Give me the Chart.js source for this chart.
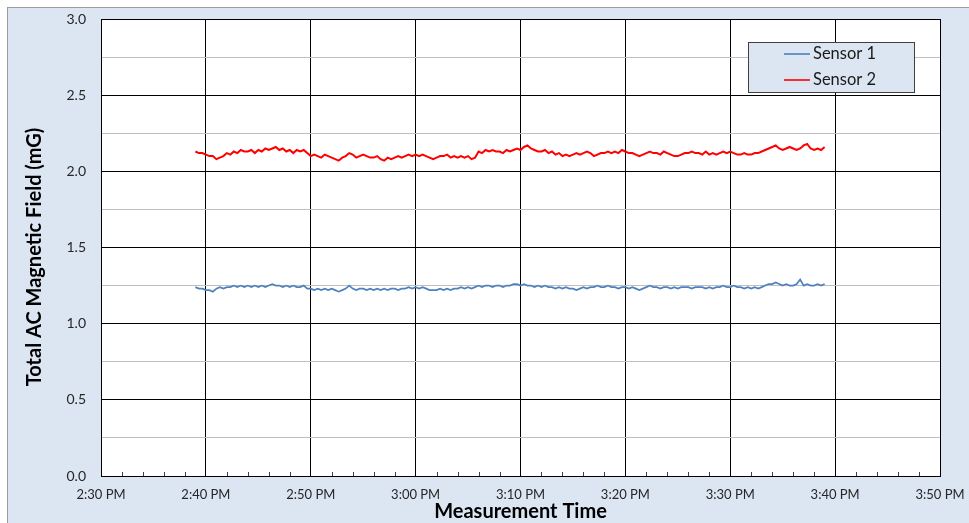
<!DOCTYPE html>
<html>
<head>
<meta charset="utf-8">
<script src="https://cdn.jsdelivr.net/npm/chart.js@4.4.1/dist/chart.umd.min.js"></script>
<style>
  html, body { margin: 0; padding: 0; background: #fff; }
  #wrap { position: relative; width: 969px; height: 523px; }
</style>
</head>
<body>
<div id="wrap"><canvas id="chart" width="969" height="523"></canvas></div>
<script>
const seriesNames = ['Sensor 1', 'Sensor 2'];
const firstSample = '2:39 PM';
const sampleSeconds = 20;
const timeTicks = ['2:30 PM', '2:40 PM', '2:50 PM', '3:00 PM', '3:10 PM', '3:20 PM', '3:30 PM', '3:40 PM', '3:50 PM'];
const xTitle = 'Measurement Time';
const yTitle = 'Total AC Magnetic Field (mG)';

// Sensor 1, every 20 s from 2:39 PM
const sensor1 = [
  1.24, 1.23, 1.23, 1.22, 1.22, 1.21, 1.23, 1.24, 1.23, 1.24, 1.24, 1.25,
  1.24, 1.25, 1.24, 1.25, 1.24, 1.25, 1.24, 1.25, 1.24, 1.25, 1.26, 1.25,
  1.25, 1.24, 1.25, 1.24, 1.25, 1.24, 1.24, 1.25, 1.23, 1.23, 1.22, 1.23,
  1.22, 1.23, 1.22, 1.23, 1.22, 1.21, 1.22, 1.23, 1.25, 1.23, 1.22, 1.23,
  1.23, 1.22, 1.23, 1.22, 1.23, 1.22, 1.23, 1.22, 1.23, 1.23, 1.22, 1.23,
  1.23, 1.24, 1.23, 1.24, 1.23, 1.24, 1.23, 1.22, 1.22, 1.22, 1.23, 1.22,
  1.23, 1.22, 1.23, 1.23, 1.24, 1.23, 1.24, 1.23, 1.24, 1.25, 1.24, 1.25,
  1.25, 1.24, 1.25, 1.25, 1.24, 1.25, 1.25, 1.26, 1.26, 1.25, 1.26, 1.25,
  1.25, 1.24, 1.25, 1.24, 1.25, 1.24, 1.24, 1.23, 1.24, 1.23, 1.24, 1.23,
  1.23, 1.22, 1.23, 1.24, 1.23, 1.24, 1.24, 1.25, 1.24, 1.24, 1.25, 1.24,
  1.24, 1.23, 1.24, 1.24, 1.23, 1.24, 1.23, 1.22, 1.23, 1.24, 1.25, 1.24,
  1.24, 1.23, 1.24, 1.24, 1.23, 1.24, 1.23, 1.24, 1.24, 1.24, 1.23, 1.24,
  1.24, 1.24, 1.23, 1.24, 1.23, 1.24, 1.24, 1.25, 1.24, 1.24, 1.25, 1.24,
  1.24, 1.23, 1.24, 1.23, 1.24, 1.23, 1.24, 1.25, 1.26, 1.26, 1.27, 1.26,
  1.25, 1.26, 1.25, 1.25, 1.26, 1.29, 1.25, 1.26, 1.25, 1.25, 1.26, 1.25,
  1.26
];

// Sensor 2, every 20 s from 2:39 PM
const sensor2 = [
  2.13, 2.12, 2.12, 2.11, 2.10, 2.10, 2.08, 2.09, 2.10, 2.12, 2.11, 2.13,
  2.12, 2.14, 2.13, 2.13, 2.14, 2.12, 2.14, 2.13, 2.15, 2.14, 2.15, 2.16,
  2.14, 2.15, 2.13, 2.14, 2.12, 2.14, 2.13, 2.14, 2.12, 2.10, 2.11, 2.10,
  2.09, 2.11, 2.10, 2.09, 2.08, 2.07, 2.09, 2.10, 2.12, 2.11, 2.09, 2.10,
  2.11, 2.10, 2.09, 2.09, 2.10, 2.08, 2.07, 2.09, 2.08, 2.09, 2.10, 2.09,
  2.10, 2.11, 2.10, 2.11, 2.10, 2.11, 2.10, 2.09, 2.08, 2.09, 2.10, 2.10,
  2.11, 2.09, 2.10, 2.09, 2.10, 2.09, 2.10, 2.08, 2.09, 2.13, 2.12, 2.14,
  2.13, 2.14, 2.13, 2.13, 2.12, 2.14, 2.13, 2.14, 2.15, 2.14, 2.16, 2.17,
  2.15, 2.14, 2.13, 2.13, 2.14, 2.12, 2.13, 2.11, 2.12, 2.10, 2.11, 2.10,
  2.11, 2.12, 2.11, 2.12, 2.13, 2.12, 2.10, 2.11, 2.12, 2.12, 2.13, 2.12,
  2.13, 2.12, 2.14, 2.13, 2.12, 2.12, 2.11, 2.10, 2.11, 2.12, 2.13, 2.12,
  2.12, 2.11, 2.13, 2.12, 2.11, 2.10, 2.10, 2.11, 2.12, 2.12, 2.13, 2.12,
  2.12, 2.11, 2.13, 2.11, 2.12, 2.11, 2.12, 2.13, 2.12, 2.13, 2.12, 2.11,
  2.11, 2.12, 2.11, 2.11, 2.12, 2.12, 2.13, 2.14, 2.15, 2.16, 2.17, 2.15,
  2.14, 2.15, 2.16, 2.15, 2.14, 2.15, 2.17, 2.18, 2.15, 2.14, 2.15, 2.14,
  2.16
];

const seriesValues = [sensor1, sensor2];
const seriesColors = ['#4f81bd', '#ff0000'];
const fontFamily = 'Lato, "Open Sans", sans-serif';

function toMinutes(label) {
  const [hm, ampm] = label.split(' ');
  let [h, m] = hm.split(':').map(Number);
  if (ampm === 'PM' && h !== 12) h += 12;
  return h * 60 + m;
}

const start = toMinutes(firstSample);
const datasets = seriesValues.map((values, s) => ({
  label: seriesNames[s],
  data: values.map((v, i) => ({ x: start + i * sampleSeconds / 60, y: v })),
  borderColor: seriesColors[s],
  borderWidth: s === 1 ? 2 : 1.7,
  pointRadius: 0,
  tension: 0,
  fill: false,
}));

const frameBackground = {
  id: 'frameBackground',
  beforeDraw(chart) {
    const { ctx, width, height, chartArea } = chart;
    ctx.save();
    ctx.fillStyle = '#ffffff';
    ctx.fillRect(0, 0, width, height);
    ctx.fillStyle = '#dce6f2';
    ctx.fillRect(7, 7, width - 7, height - 7);
    ctx.strokeStyle = '#9c9c9c';
    ctx.lineWidth = 1;
    ctx.strokeRect(7.5, 7.5, width, height);
    ctx.fillStyle = '#ffffff';
    ctx.fillRect(chartArea.left, chartArea.top, chartArea.right - chartArea.left, chartArea.bottom - chartArea.top);
    ctx.restore();
  },
};

const minorTicks = {
  id: 'minorTicks',
  afterDatasetsDraw(chart) {
    const { ctx } = chart;
    const x = chart.scales.x;
    const bottom = chart.chartArea.bottom;
    ctx.save();
    ctx.strokeStyle = '#404040';
    ctx.lineWidth = 1;
    for (let m = x.min; m <= x.max; m += 2) {
      if (m % 10 === 0) continue;
      const px = Math.round(x.getPixelForValue(m)) + 0.5;
      ctx.beginPath();
      ctx.moveTo(px, bottom);
      ctx.lineTo(px, bottom - 4);
      ctx.stroke();
    }
    ctx.restore();
  },
};

const axisTitles = {
  id: 'axisTitles',
  afterDraw(chart) {
    const { ctx, chartArea } = chart;
    ctx.save();
    ctx.fillStyle = '#000000';
    ctx.font = 'bold 20px ' + fontFamily;
    ctx.textAlign = 'center';
    ctx.textBaseline = 'middle';
    ctx.fillText(xTitle, (chartArea.left + chartArea.right) / 2, 512);
    ctx.translate(35, 257);
    ctx.rotate(-Math.PI / 2);
    ctx.fillText(yTitle, 0, 0);
    ctx.restore();
  },
};

const boxLegend = {
  id: 'boxLegend',
  afterDraw(chart) {
    const { ctx } = chart;
    const left = 748, top = 42, w = 166, h = 50;
    ctx.save();
    ctx.fillStyle = '#dce6f2';
    ctx.fillRect(left, top, w, h);
    ctx.strokeStyle = '#404040';
    ctx.lineWidth = 1;
    ctx.strokeRect(left + 0.5, top + 0.5, w, h);
    ctx.font = '16.5px ' + fontFamily;
    ctx.textBaseline = 'middle';
    ctx.fillStyle = '#1a1a1a';
    chart.data.datasets.forEach((ds, i) => {
      const y = top + 12 + i * 26;
      ctx.strokeStyle = ds.borderColor;
      ctx.lineWidth = 1.6;
      ctx.beginPath();
      ctx.moveTo(784, y);
      ctx.lineTo(810, y);
      ctx.stroke();
      ctx.fillText(ds.label, 813, y);
    });
    ctx.restore();
  },
};

new Chart(document.getElementById('chart'), {
  type: 'line',
  data: { datasets },
  options: {
    responsive: false,
    animation: false,
    layout: { padding: { left: 0, top: 19, right: 29, bottom: 0 } },
    plugins: {
      legend: { display: false },
      tooltip: { enabled: false },
    },
    scales: {
      x: {
        type: 'linear',
        min: toMinutes(timeTicks[0]),
        max: toMinutes(timeTicks[timeTicks.length - 1]),
        afterFit: (s) => { s.height = 47; s.paddingLeft = 0; s.paddingRight = 0; },
        ticks: {
          stepSize: 10,
          padding: 11,
          maxRotation: 0,
          color: '#262626',
          font: { family: fontFamily, size: 13 },
          callback: (v) => timeTicks.find((t) => toMinutes(t) === v) || '',
        },
        grid: { color: '#000000', lineWidth: 1, drawTicks: false },
        border: { color: '#000000', width: 1 },
      },
      y: {
        min: 0,
        max: 3,
        afterFit: (s) => { s.width = 101; s.paddingTop = 0; s.paddingBottom = 0; },
        ticks: {
          stepSize: 0.25,
          padding: 15,
          color: '#262626',
          font: { family: fontFamily, size: 14 },
          callback: (v) => (Math.abs(v * 2 - Math.round(v * 2)) < 1e-6 ? v.toFixed(1) : ''),
        },
        grid: {
          drawTicks: false,
          lineWidth: 1,
          color: (c) => (Math.abs(c.tick.value * 2 - Math.round(c.tick.value * 2)) < 1e-6 ? '#000000' : '#bfbfbf'),
        },
        border: { color: '#000000', width: 1 },
      },
    },
  },
  plugins: [frameBackground, minorTicks, axisTitles, boxLegend],
});
</script>
</body>
</html>
